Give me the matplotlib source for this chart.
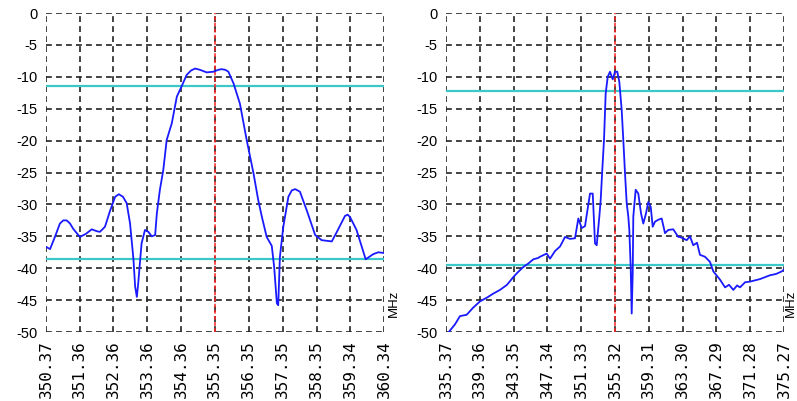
import matplotlib
matplotlib.use('Agg')
import matplotlib.pyplot as plt

# left sweep (narrow span)
left_freq = [350.39, 350.49, 350.64, 350.78, 350.88, 350.98, 351.08, 351.17, 351.37, 351.55,
             351.72, 351.87, 351.96, 352.11, 352.26, 352.41, 352.52, 352.64, 352.75, 352.85,
             352.95, 353.00, 353.05, 353.09, 353.14, 353.19, 353.29, 353.39, 353.49, 353.59,
             353.64, 353.73, 353.83, 353.93, 354.08, 354.23, 354.37, 354.52, 354.65, 354.77,
             354.91, 355.11, 355.31, 355.45, 355.55, 355.66, 355.75, 355.90, 356.09, 356.29,
             356.49, 356.63, 356.74, 356.88, 357.03, 357.10, 357.18, 357.22, 357.27, 357.37,
             357.52, 357.62, 357.72, 357.86, 358.06, 358.31, 358.50, 358.80, 358.95, 359.19,
             359.27, 359.34, 359.53, 359.80, 360.02, 360.17, 360.32]
left_db = [-36.7, -37.0, -35.0, -33.0, -32.5, -32.5, -33.0, -33.8, -35.1, -34.6,
           -33.9, -34.2, -34.3, -33.5, -31.0, -28.8, -28.4, -28.8, -29.8, -33.0,
           -38.6, -42.9, -44.5, -42.4, -39.2, -36.1, -34.0, -34.3, -35.0, -34.8,
           -31.4, -27.7, -24.6, -19.9, -17.3, -13.1, -11.5, -9.7, -9.0, -8.7,
           -8.9, -9.3, -9.2, -8.9, -8.8, -8.9, -9.2, -11.0, -14.2, -19.9,
           -25.1, -29.3, -32.0, -35.1, -36.5, -39.8, -45.5, -45.8, -38.2, -33.5,
           -28.8, -27.8, -27.6, -28.0, -30.9, -34.8, -35.6, -35.8, -34.3, -31.8,
           -31.6, -32.0, -34.0, -38.6, -37.8, -37.5, -37.6]
left_ticks = ['350.37', '351.36', '352.36', '353.36', '354.36', '355.35',
              '356.35', '357.35', '358.35', '359.34', '360.34']
left_center = 355.35
left_limits = [-11.4, -38.5]

# right sweep (wide span)
right_freq = [335.64, 336.43, 337.02, 337.81, 338.56, 339.38, 340.21, 340.92, 341.74, 342.57,
              343.31, 343.87, 344.50, 345.05, 345.68, 346.23, 346.47, 347.26, 347.65, 348.24,
              348.83, 349.42, 350.01, 350.60, 350.99, 351.39, 351.78, 352.37, 352.69, 352.96,
              353.16, 353.47, 353.63, 353.82, 354.02, 354.22, 354.46, 354.73, 355.05, 355.32,
              355.59, 355.83, 356.11, 356.30, 356.50, 356.70, 356.89, 357.01, 357.17, 357.29,
              357.41, 357.48, 357.76, 358.07, 358.39, 358.66, 358.98, 359.25, 359.54, 359.77,
              360.04, 360.43, 360.83, 361.22, 361.61, 362.20, 362.79, 362.99, 363.78, 364.17,
              364.56, 365.00, 365.35, 365.94, 366.53, 366.93, 367.72, 368.31, 368.78, 369.29,
              369.73, 370.08, 370.67, 371.26, 372.44, 373.62, 374.33, 375.00, 375.27]
right_db = [-50.1, -48.8, -47.5, -47.3, -46.2, -45.2, -44.6, -44.0, -43.4, -42.6,
            -41.4, -40.6, -39.8, -39.3, -38.6, -38.4, -38.2, -37.7, -38.5, -37.3,
            -36.6, -35.1, -35.4, -35.3, -32.2, -33.7, -33.4, -28.3, -28.3, -36.1,
            -36.4, -31.9, -29.3, -24.6, -19.9, -12.6, -10.0, -9.2, -10.4, -9.2,
            -9.2, -10.8, -15.2, -19.9, -25.1, -29.8, -31.9, -34.0, -39.8, -47.1,
            -40.8, -31.9, -27.7, -28.3, -31.4, -33.0, -31.4, -29.6, -30.4, -33.5,
            -32.7, -32.4, -32.2, -34.5, -34.0, -33.9, -35.1, -35.1, -35.6, -35.0,
            -36.4, -36.0, -37.9, -38.2, -39.0, -40.5, -41.8, -43.0, -42.6, -43.4,
            -42.7, -43.0, -42.2, -42.1, -41.7, -41.1, -40.9, -40.5, -40.2]
right_ticks = ['335.37', '339.36', '343.35', '347.34', '351.33', '355.32',
               '359.31', '363.30', '367.29', '371.28', '375.27']
right_center = 355.32
right_limits = [-12.2, -39.5]

y_ticks = [0, -5, -10, -15, -20, -25, -30, -35, -40, -45, -50]

plt.rcParams['axes.unicode_minus'] = False

fig = plt.figure(figsize=(7.97, 4.01), dpi=100)
ax1 = fig.add_axes([0.0577, 0.172, 0.4241, 0.7955])
ax2 = fig.add_axes([0.5596, 0.172, 0.4241, 0.7955])

panels = [(ax1, left_freq, left_db, left_ticks, left_center, left_limits),
          (ax2, right_freq, right_db, right_ticks, right_center, right_limits)]

for ax, f, db, ticks, center, lims in panels:
    tv = [float(t) for t in ticks]
    ax.set_xlim(tv[0], tv[-1])
    ax.set_ylim(-50, 0)
    ax.set_xticks(tv)
    ax.set_xticklabels(ticks, rotation=90, family='DejaVu Sans Mono', fontsize=11.5)
    ax.set_yticks(y_ticks)
    ax.set_yticklabels([str(v) for v in y_ticks], family='Liberation Sans', fontsize=10.5)
    ax.tick_params(length=0, pad=6)
    for s in ax.spines.values():
        s.set_visible(False)
    ax.grid(True, color='#222222', linestyle=(0, (3.5, 2.5)), linewidth=1.2)
    ax.set_axisbelow(True)
    for lv in lims:
        ax.axhline(lv, color='#3cc8c8', linewidth=1.6, zorder=2)
    ax.axvline(center, color='#ff2020', linestyle=(0, (2.5, 1.5)), linewidth=1.1, zorder=3)
    ax.plot(f, db, color='#1a1aff', linewidth=1.3, zorder=4)

ax1.text(1.012, 0.09, 'MHz', transform=ax1.transAxes, rotation=90,
         family='Liberation Sans', fontsize=9.5, ha='left', va='center')
ax2.text(1.003, 0.09, 'MHz', transform=ax2.transAxes, rotation=90,
         family='Liberation Sans', fontsize=9.5, ha='left', va='center')

fig.savefig('out.png', dpi=100)
